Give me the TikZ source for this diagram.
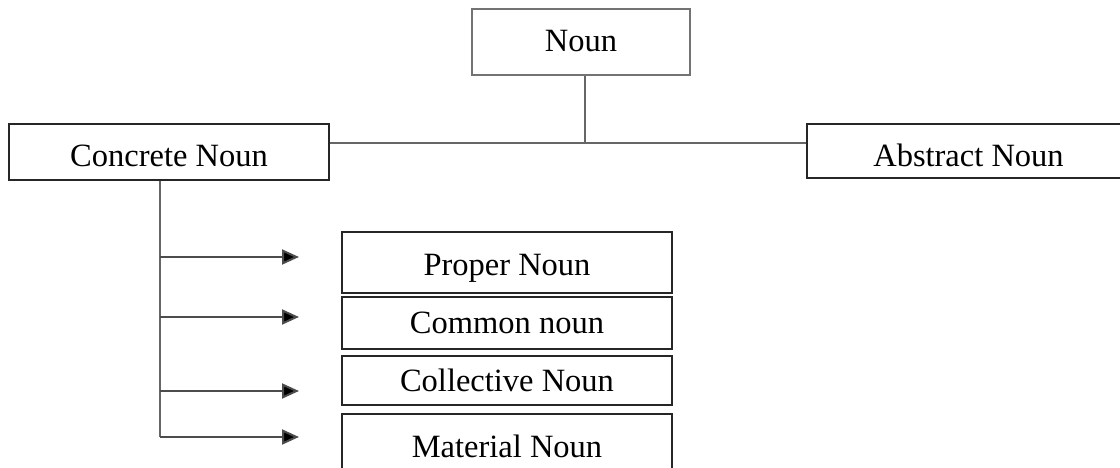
\documentclass[tikz,border=0pt]{standalone}
\usepackage{fontspec}
\setmainfont{Liberation Serif}
\usetikzlibrary{arrows.meta}
\begin{document}
\begin{tikzpicture}[x=1pt,y=-1pt,
  box/.style={draw=black!85, line width=2.6pt, fill=white, inner sep=0pt, text height=34pt, text depth=#1, font=\fontsize{32.5}{38}\selectfont},
  box/.default=10pt,
  link/.style={draw=black!60, line width=2pt},
  arr/.style={draw=black!70, line width=2pt, -{Triangle[length=17pt,width=15pt,fill=black]}}]
\useasboundingbox (0,0) rectangle (1120,468);
\node[box=14pt, draw=black!55, minimum width=218pt, minimum height=66pt] (noun) at (581,42) {Noun};
\node[box=4pt, minimum width=320pt, minimum height=56pt] (concrete) at (169,152) {Concrete Noun};
\node[box=2pt, minimum width=323pt, minimum height=54pt] (abstract) at (968.5,151) {Abstract Noun};
\node[box=9pt, minimum width=330pt, minimum height=61pt] (proper) at (507,262.5) {Proper Noun};
\node[box=14pt, minimum width=330pt, minimum height=52pt] (common) at (507,323) {Common noun};
\node[box=13pt, minimum width=330pt, minimum height=49pt] (collective) at (507,380.5) {Collective Noun};
\node[box=12pt, minimum width=330pt, minimum height=64pt] (material) at (507,446) {Material Noun};
\coordinate (j) at (585,143);
\coordinate (t) at (160,437);
\coordinate (a1) at (299,257);
\coordinate (a2) at (299,317);
\coordinate (a3) at (299,391);
\coordinate (a4) at (299,437);
\draw[link] (noun.south -| j) -- (j);
\draw[link] (concrete.east |- j) -- (abstract.west |- j);
\draw[link] (concrete.south -| t) -- (t);
\draw[arr] (t |- a1) -- (a1);
\draw[arr] (t |- a2) -- (a2);
\draw[arr] (t |- a3) -- (a3);
\draw[arr] (t |- a4) -- (a4);
\end{tikzpicture}
\end{document}
